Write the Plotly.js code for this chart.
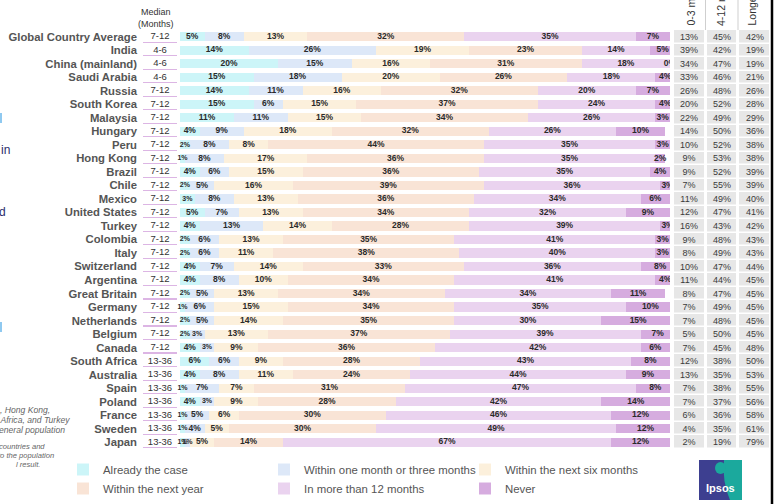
<!DOCTYPE html>
<html><head><meta charset="utf-8">
<script src="https://cdn.plot.ly/plotly-3.0.1.min.js"></script>
<style>html,body{margin:0;padding:0;background:#fff;}#chart{width:782px;height:504px;}</style>
</head><body><div id="chart"></div>
<script>
const countries = ['Global Country Average','India','China (mainland)','Saudi Arabia','Russia','South Korea','Malaysia','Hungary','Peru','Hong Kong','Brazil','Chile','Mexico','United States','Turkey','Colombia','Italy','Switzerland','Argentina','Great Britain','Germany','Netherlands','Belgium','Canada','South Africa','Australia','Spain','Poland','France','Sweden','Japan'];
const medians = ['7-12','4-6','4-6','4-6','7-12','7-12','7-12','7-12','7-12','7-12','7-12','7-12','7-12','7-12','7-12','7-12','7-12','7-12','7-12','7-12','7-12','7-12','7-12','7-12','13-36','13-36','13-36','13-36','13-36','13-36','13-36'];
const alreadyTheCase = [5,14,20,15,14,15,11,4,2,1,4,2,3,5,4,2,2,4,4,2,1,2,2,4,6,4,1,4,1,1,1];
const withinThreeMonths = [8,26,15,18,11,6,11,9,8,8,6,5,8,7,13,6,6,7,8,5,6,5,3,3,6,8,7,3,5,4,1];
const withinSixMonths = [13,19,16,20,16,15,15,18,8,17,15,16,13,13,14,13,11,14,10,13,15,14,13,9,9,11,7,9,6,5,5];
const withinNextYear = [32,23,31,26,32,37,34,32,44,36,36,39,36,34,28,35,38,33,34,34,34,35,37,36,28,24,31,28,30,30,14];
const moreThan12 = [35,14,18,18,20,24,26,26,35,35,35,36,34,32,39,41,40,36,41,34,35,30,39,42,43,44,47,42,46,49,67];
const never = [7,5,0,4,7,4,3,10,3,2,4,3,6,9,3,3,3,8,4,11,10,15,7,6,8,9,8,14,12,12,12];
const tableHeaders = ['0-3 months','4-12 months','Longer term'];
const share0to3 = [13,39,34,33,26,20,22,14,10,9,9,7,11,12,16,9,8,10,11,8,7,7,5,7,12,13,7,7,6,4,2];
const share4to12 = [45,42,47,46,48,52,49,50,52,53,52,55,49,47,43,48,49,47,44,47,49,48,50,45,38,35,38,37,36,35,19];
const shareLonger = [42,19,19,21,26,28,29,36,38,38,39,39,40,41,42,43,43,44,45,45,45,45,45,48,50,53,55,56,58,61,79];
const seriesNames = ['Already the case','Within one month or three months','Within the next six months','Within the next year','In more than 12 months','Never'];
const footnoteLines = [', Hong Kong,', ', Africa, and Turkey', 'eneral population', 'countries and', 'to the population', 'l result.'];

const FONT = 'Liberation Sans, Arial, sans-serif';
const colors = ['#ccf5f8','#dde8f8','#fcf0dc','#f9e4d6','#ead3ef','#d6acdf'];
const series = [alreadyTheCase, withinThreeMonths, withinSixMonths, withinNextYear, moreThan12, never];

const PW = 772, PT = 30, PH = 419;
const px = p => p / PW;
const py = p => 1 - (p - PT) / PH;

const traces = [];
series.forEach((vals, k) => {
  traces.push({type:'bar', orientation:'h', name: seriesNames[k], y: countries, x: vals,
    width: 0.68, marker:{color: colors[k], line:{width:0}}, hoverinfo:'skip', xaxis:'x', yaxis:'y'});
});
// labels
const cum = countries.map(() => 0);
series.forEach((vals, k) => {
  const xs = vals.map((v, i) => cum[i] + v / 2);
  vals.forEach((v, i) => { cum[i] += v; });
  traces.push({type:'scatter', mode:'text', y: countries, x: xs, text: vals.map(v => v + '%'),
    cliponaxis: k !== 0,
    textfont:{family: FONT, color:'#2a2a2a', weight:'bold', size: vals.map(v => (v <= 3 && k < 5) ? 7 : 8.5)},
    showlegend:false, hoverinfo:'skip', xaxis:'x', yaxis:'y'});
});
// median underline
traces.push({type:'bar', orientation:'h', y: countries, x: countries.map(() => 1), width: 0.08, offset: 0.36,
  marker:{color:'#dcb5e4'}, showlegend:false, hoverinfo:'skip', xaxis:'x3', yaxis:'y'});
traces.push({type:'scatter', mode:'text', y: countries, x: countries.map(() => 0.5), text: medians,
  textfont:{family: FONT, size: 9.5, color:'#333'}, showlegend:false, hoverinfo:'skip', xaxis:'x3', yaxis:'y'});
// table
traces.push({type:'heatmap', x: tableHeaders, y: countries,
  z: countries.map((c, i) => [share0to3[i], share4to12[i], shareLonger[i]]),
  text: countries.map((c, i) => [share0to3[i] + '%', share4to12[i] + '%', shareLonger[i] + '%']),
  texttemplate: '%{text}', textfont:{family: FONT, size: 9, color:'#3a3a3a'},
  colorscale: [[0,'#e7e7e7'],[1,'#e7e7e7']], showscale:false, xgap: 3, ygap: 1.5,
  hoverinfo:'skip', xaxis:'x2', yaxis:'y', showlegend:false});

const annotations = [
  {text:'Median<br>(Months)', xref:'paper', yref:'paper', x: px(156), y: py(18), showarrow:false,
   font:{family: FONT, size: 9, color:'#333'}, xanchor:'center', yanchor:'middle'},
];
[[691, tableHeaders[0]], [721, tableHeaders[1]], [752, tableHeaders[2]]].forEach(([x, t]) => {
  annotations.push({text: t, xref:'paper', yref:'paper', x: px(x), y: py(28), textangle: -90,
    showarrow:false, xanchor:'center', yanchor:'bottom', font:{family: FONT, size: 10.5, color:'#333'}});
});
annotations.push({text:'in', xref:'paper', yref:'paper', x: px(-1), y: py(150), xanchor:'left', yanchor:'middle', showarrow:false, font:{family: FONT, size: 12, color:'#2c2d6c'}});
annotations.push({text:'d', xref:'paper', yref:'paper', x: px(-3), y: py(212), xanchor:'left', yanchor:'middle', showarrow:false, font:{family: FONT, size: 12, color:'#2c2d6c'}});
const footPos = [[52, 410, 8.6], [72, 420, 8.6], [67, 430, 8.6], [47, 446, 7.6], [56, 455, 7.6], [42, 464, 7.6]];
footnoteLines.forEach((t, i) => {
  const [xe, y, s] = footPos[i];
  annotations.push({text: '<i>' + t + '</i>', xref:'paper', yref:'paper', x: px(xe), y: py(y), xanchor:'right', yanchor:'middle',
    showarrow:false, font:{family: FONT, size: s, color:'#666'}});
});
annotations.push({text:'<b>Ipsos</b>', xref:'paper', yref:'paper', x: px(720.5), y: py(488), xanchor:'center', yanchor:'middle', showarrow:false, font:{family: FONT, size: 11, color:'#fff'}});

const shapes = [
  {type:'line', xref:'paper', yref:'paper', x0: 1, x1: 1, y0: py(0), y1: py(504), line:{color:'#000', width:2.5}},
  {type:'line', xref:'paper', yref:'paper', x0: px(705.5), x1: px(705.5), y0: py(0), y1: py(30), line:{color:'#cfcfcf', width:1}},
  {type:'line', xref:'paper', yref:'paper', x0: px(738), x1: px(738), y0: py(0), y1: py(30), line:{color:'#cfcfcf', width:1}},
  {type:'rect', xref:'paper', yref:'paper', x0: px(0), x1: px(2), y0: py(113), y1: py(123), fillcolor:'#8fc9f0', line:{width:0}},
  {type:'rect', xref:'paper', yref:'paper', x0: px(0), x1: px(2), y0: py(322), y1: py(332), fillcolor:'#8fc9f0', line:{width:0}},
  {type:'rect', xref:'paper', yref:'paper', x0: px(699), x1: px(742), y0: py(460), y1: py(500), fillcolor:'#3d3f90', line:{width:0}},
  {type:'path', xref:'paper', yref:'paper',
   path: `M ${px(724)} ${py(460)} L ${px(742)} ${py(460)} L ${px(742)} ${py(500)} L ${px(730)} ${py(500)} Q ${px(722)} ${py(482)} ${px(724)} ${py(460)} Z`,
   fillcolor:'#1ba99d', line:{width:0}},
  {type:'circle', xref:'paper', yref:'paper', x0: px(715), x1: px(726), y0: py(462), y1: py(474), fillcolor:'#1ba99d', line:{width:0}},
];

const layout = {
  width: 782, height: 504, paper_bgcolor:'#fff', plot_bgcolor:'rgba(0,0,0,0)',
  margin:{l:0, r:10, t:30, b:55, autoexpand:false},
  barmode:'stack', bargap:0.3,
  font:{family: FONT},
  showlegend:true,
  xaxis:{domain:[px(180), px(670)], range:[0,100], visible:false, fixedrange:true},
  xaxis2:{domain:[px(673), px(771)], visible:false, anchor:'y', type:'category', fixedrange:true},
  xaxis3:{domain:[px(143), px(177)], range:[0,1], visible:false, anchor:'y', fixedrange:true},
  yaxis:{type:'category', categoryorder:'array', categoryarray: countries, range:[30.5,-0.5],
    tickmode:'array', tickvals: countries, ticktext: countries,
    anchor:'free', position: px(137), showgrid:false, zeroline:false, showline:false, ticks:'',
    tickfont:{family: FONT, size: 11.3, color:'#555', weight:'bold'}, fixedrange:true},
  legend:{orientation:'h', x: px(63), y: py(455), xanchor:'left', yanchor:'top', traceorder:'normal',
    entrywidth: 156, font:{family: FONT, size: 11.4, color:'#555'}, bgcolor:'rgba(0,0,0,0)'},
  annotations, shapes
};
Plotly.newPlot('chart', traces, layout, {displayModeBar:false, staticPlot:true});
</script></body></html>
